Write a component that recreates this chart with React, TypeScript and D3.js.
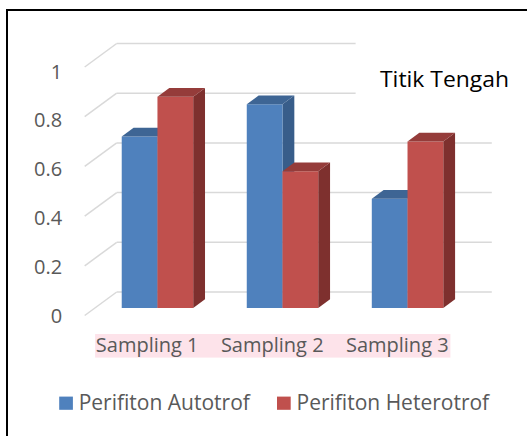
import React from 'react';
import * as d3 from 'd3';

const categories = ['Sampling 1', 'Sampling 2', 'Sampling 3'];
const seriesNames = ['Perifiton Autotrof', 'Perifiton Heterotrof'];
const autotrof = [0.69, 0.82, 0.44];
const heterotrof = [0.85, 0.55, 0.67];
const yTicks = [0, 0.2, 0.4, 0.6, 0.8, 1];
const yTickLabels = ['0', '0.2', '0.4', '0.6', '0.8', '1'];

const colors = [
  { front: '#4F81BD', side: '#385D8A', top: '#3E6594' },
  { front: '#C0504D', side: '#7E302E', top: '#953C3A' },
];

const W = 527;
const H = 436;
const FONT = '"Open Sans", Lato, sans-serif';

// oblique depth of the floor, bars sit between f0 and f1
const DEPTH_X = 32;
const DEPTH_Y = -23.5;
const F0 = 0.32;
const F1 = 0.69;

const App: React.FC = () => {
  const x = d3.scaleBand<string>().domain(categories).range([84.7, 459.8]).paddingInner(0);
  const xSub = d3
    .scaleBand<string>()
    .domain(seriesNames)
    .range([0, x.bandwidth()])
    .paddingInner(0)
    .paddingOuter(0.75);
  const y = d3.scaleLinear().domain([0, 1]).range([315.5, 67]);
  const yLabel = d3.scaleLinear().domain([0, 1]).range([315.8, 71]);

  const values = [autotrof, heterotrof];

  const pt = (px: number, py: number, f: number) => [px + DEPTH_X * f, py + DEPTH_Y * f];
  const poly = (pts: number[][]) => pts.map((p) => p.join(',')).join(' ');

  const bars: React.ReactNode[] = [];
  categories.forEach((cat, ci) => {
    seriesNames.forEach((s, si) => {
      const v = values[si][ci];
      const x0 = (x(cat) ?? 0) + (xSub(s) ?? 0);
      const x1 = x0 + xSub.bandwidth();
      const yb = y(0);
      const yt = y(v);
      const c = colors[si];
      const front = [pt(x0, yb, F0), pt(x1, yb, F0), pt(x1, yt, F0), pt(x0, yt, F0)];
      const side = [pt(x1, yb, F0), pt(x1, yb, F1), pt(x1, yt, F1), pt(x1, yt, F0)];
      const top = [pt(x0, yt, F0), pt(x1, yt, F0), pt(x1, yt, F1), pt(x0, yt, F1)];
      bars.push(
        <g key={`${cat}-${s}`}>
          <polygon points={poly(side)} fill={c.side} />
          <polygon points={poly(front)} fill={c.front} />
          <polygon points={poly(top)} fill={c.top} />
        </g>
      );
    });
  });

  const backX0 = 84.7 + DEPTH_X;
  const backX1 = 459.8 + DEPTH_X;

  return (
    <svg width={W} height={H} style={{ position: 'absolute', left: 0, top: 0, background: '#fff' }}>
      <rect x={0} y={0} width={W} height={H} fill="#fff" />
      <rect x={7} y={10} width={700} height={600} fill="#fff" stroke="#000" strokeWidth={2} />

      {/* gridlines */}
      {yTicks.map((t) => (
        <g key={t} stroke="#D9D9D9" strokeWidth={1.5} fill="none">
          <line x1={84.7} y1={y(t)} x2={backX0} y2={y(t) + DEPTH_Y} />
          <line x1={backX0} y1={y(t) + DEPTH_Y} x2={backX1} y2={y(t) + DEPTH_Y} />
        </g>
      ))}

      {/* title box hides the upper gridlines */}
      <rect x={355.6} y={30} width={180} height={90} fill="#fff" />
      <text x={380} y={86.5} fontFamily={FONT} fontSize={21.5} fill="#000" textLength={129} lengthAdjust="spacingAndGlyphs">
        Titik Tengah
      </text>

      {bars}

      {/* y tick labels */}
      {yTicks.map((t, i) => (
        <text
          key={t}
          x={62.2}
          y={yLabel(t)}
          textAnchor="end"
          dominantBaseline="central"
          fontFamily={FONT}
          fontSize={20}
          fill="#595959"
        >
          {yTickLabels[i]}
        </text>
      ))}

      {/* category labels */}
      <rect x={95.1} y={334} width={355.3} height={23.6} fill="#FDE3EA" />
      {categories.map((c) => (
        <text
          key={c}
          x={(x(c) ?? 0) + x.bandwidth() / 2}
          y={351.8}
          textAnchor="middle"
          fontFamily={FONT}
          fontSize={20}
          fill="#595959"
        >
          {c}
        </text>
      ))}

      {/* legend */}
      {seriesNames.map((s, i) => {
        const lx = [59.2, 277][i];
        return (
          <g key={s}>
            <rect x={lx} y={396.6} width={13.7} height={13.2} fill={colors[i].front} />
            <text x={lx + 19.5} y={409.7} fontFamily={FONT} fontSize={21} fill="#595959">
              {s}
            </text>
          </g>
        );
      })}
    </svg>
  );
};

export default App;
